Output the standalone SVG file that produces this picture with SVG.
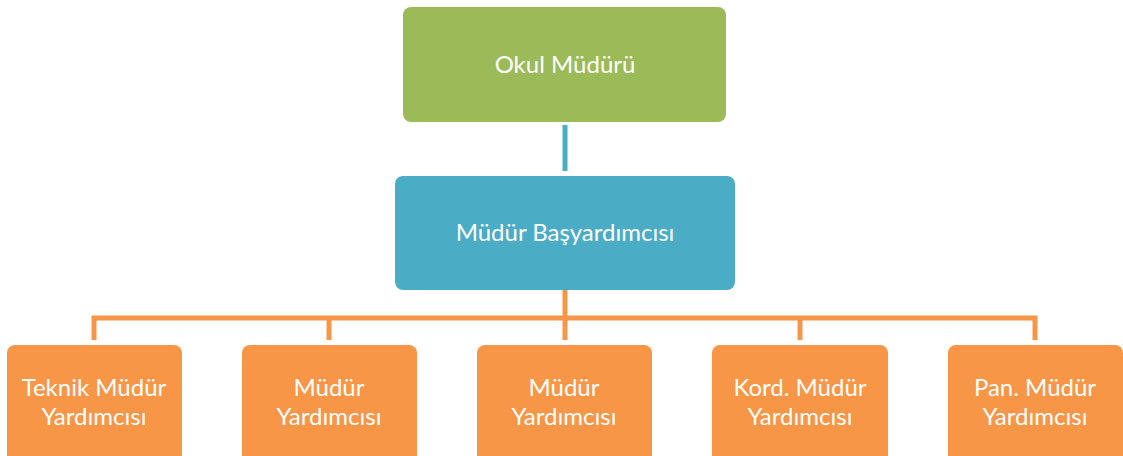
<svg xmlns="http://www.w3.org/2000/svg" width="1123" height="456" viewBox="0 0 1123 456">
<style>
.t{font-family:Lato,"Open Sans",sans-serif;font-size:24px;fill:#fff;text-anchor:middle}
.g{fill:#9BBB59}.b{fill:#4BACC6}.o{fill:#F79646}
.co{stroke:#F79646;stroke-width:5;fill:none}
.cb{stroke:#4BACC6;stroke-width:5;fill:none}
</style>
<rect width="1123" height="456" fill="#fff"/>
<g id="connectors">
<line class="cb" x1="565" y1="125" x2="565" y2="171"/>
<line class="co" x1="565" y1="290" x2="565" y2="340"/>
<path class="co" d="M94,340 V318 H1035 V340"/>
<line class="co" x1="329" y1="318" x2="329" y2="340"/>
<line class="co" x1="800" y1="318" x2="800" y2="340"/>
</g>
<g id="n0"><rect class="g" x="403" y="7" width="323" height="115" rx="8"/><text class="t" x="565" y="73">Okul Müdürü</text></g>
<g id="n1"><rect class="b" x="395" y="176" width="340" height="114" rx="8"/><text class="t" x="565" y="241">Müdür Başyardımcısı</text></g>
<g id="n2"><rect class="o" x="7" y="345" width="175" height="125" rx="8"/><text class="t" x="94" y="396">Teknik Müdür</text><text class="t" x="94" y="425">Yardımcısı</text></g>
<g id="n3"><rect class="o" x="242" y="345" width="175" height="125" rx="8"/><text class="t" x="329" y="396">Müdür</text><text class="t" x="329" y="425">Yardımcısı</text></g>
<g id="n4"><rect class="o" x="477" y="345" width="175" height="125" rx="8"/><text class="t" x="564" y="396">Müdür</text><text class="t" x="564" y="425">Yardımcısı</text></g>
<g id="n5"><rect class="o" x="712" y="345" width="176" height="125" rx="8"/><text class="t" x="800" y="396">Kord. Müdür</text><text class="t" x="800" y="425">Yardımcısı</text></g>
<g id="n6"><rect class="o" x="948" y="345" width="175" height="125" rx="8"/><text class="t" x="1035" y="396">Pan. Müdür</text><text class="t" x="1035" y="425">Yardımcısı</text></g>
</svg>
